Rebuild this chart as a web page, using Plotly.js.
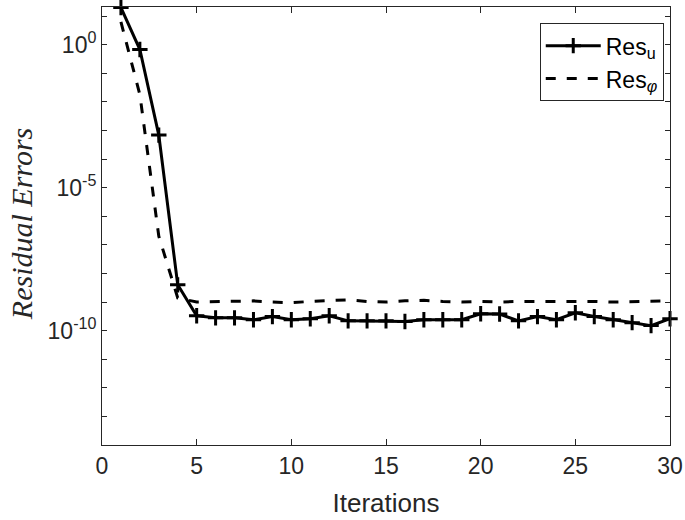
<!DOCTYPE html>
<html>
<head>
<meta charset="utf-8">
<script src="https://cdn.plot.ly/plotly-3.0.1.min.js"></script>
<style>html,body{margin:0;padding:0;background:#fff;}#chart{width:685px;height:520px;}</style>
</head>
<body>
<div id="chart"></div>
<script>
const iterations = [1,2,3,4,5,6,7,8,9,10,11,12,13,14,15,16,17,18,19,20,21,22,23,24,25,26,27,28,29,30];
const resU = [2.0e1, 6.8e-1, 6.9e-4, 4.0e-9, 3.3e-10, 2.8e-10, 2.8e-10, 2.4e-10, 3.1e-10, 2.4e-10,
              2.6e-10, 3.3e-10, 2.2e-10, 2.2e-10, 2.2e-10, 2.1e-10, 2.4e-10, 2.4e-10, 2.4e-10, 3.9e-10,
              3.8e-10, 2.2e-10, 3.1e-10, 2.4e-10, 4.2e-10, 3.1e-10, 2.4e-10, 1.9e-10, 1.5e-10, 2.6e-10];
const resPhi = [6.3, 1.8e-2, 2.0e-7, 1.4e-9, 1.0e-9, 1.05e-9, 1.05e-9, 1.1e-9, 1.0e-9, 0.95e-9,
                1.05e-9, 1.15e-9, 1.2e-9, 1.05e-9, 1.0e-9, 1.1e-9, 1.15e-9, 1.05e-9, 1.0e-9, 1.05e-9,
                1.0e-9, 1.05e-9, 1.05e-9, 1.1e-9, 1.1e-9, 1.05e-9, 1.0e-9, 1.05e-9, 1.05e-9, 1.1e-9];
const xTicks = [0,5,10,15,20,25,30];
const yTickVals = [1e-14,1e-13,1e-12,1e-11,1e-10,1e-9,1e-8,1e-7,1e-6,1e-5,1e-4,1e-3,1e-2,1e-1,1e0,1e1];
const yTickText = ['','','','','10<sup>-10</sup>','','','','','10<sup>-5</sup>','','','','','10<sup>0</sup>',''];
const seriesNames = ['Res<sub>u</sub>', 'Res<sub><i>φ</i></sub>'];
const yTitle = '<i>Residual Errors</i>';

const axisColor = '#262626';
const traces = [
  {x: iterations, y: resU, name: seriesNames[0], type: 'scatter', mode: 'lines+markers',
   line: {color: '#000', width: 3}, marker: {symbol: 'cross-thin', size: 11, line: {color: '#000', width: 3}},
   cliponaxis: false},
  {x: iterations, y: resPhi, name: seriesNames[1], type: 'scatter', mode: 'lines',
   line: {color: '#000', width: 3, dash: '10px,11px'}, cliponaxis: false}
];
const layout = {
  width: 685, height: 520,
  margin: {l: 102, r: 15, t: 7, b: 75, pad: 0},
  paper_bgcolor: '#fff', plot_bgcolor: '#fff',
  font: {family: '"Liberation Sans", Arial, sans-serif', color: axisColor, size: 24},
  showlegend: true,
  legend: {x: 0.989, y: 0.963, xanchor: 'right', yanchor: 'top', bgcolor: '#fff',
           bordercolor: axisColor, borderwidth: 1, font: {size: 23, color: '#000'}, itemwidth: 55},
  xaxis: {range: [0, 30], tickmode: 'array', tickvals: xTicks, ticks: 'inside', ticklen: 6,
          tickcolor: axisColor, showline: true, linecolor: axisColor, linewidth: 1, mirror: 'ticks',
          showgrid: false, zeroline: false, tickfont: {size: 23},
          title: {text: 'Iterations', font: {size: 26}, standoff: 16}},
  yaxis: {type: 'log', range: [-14, 1.32], tickmode: 'array', tickvals: yTickVals, ticktext: yTickText,
          ticks: 'inside', ticklen: 5, tickcolor: axisColor, showline: true, linecolor: axisColor,
          linewidth: 1, mirror: 'ticks', showgrid: false, zeroline: false, tickfont: {size: 23}},
  annotations: [{text: yTitle, xref: 'paper', yref: 'paper', x: -0.142, y: 0.505,
                 xanchor: 'center', yanchor: 'middle', textangle: -90, showarrow: false,
                 font: {family: '"Liberation Serif", serif', size: 30, color: axisColor}}]
};
Plotly.newPlot('chart', traces, layout, {displayModeBar: false, staticPlot: true});
</script>
</body>
</html>
